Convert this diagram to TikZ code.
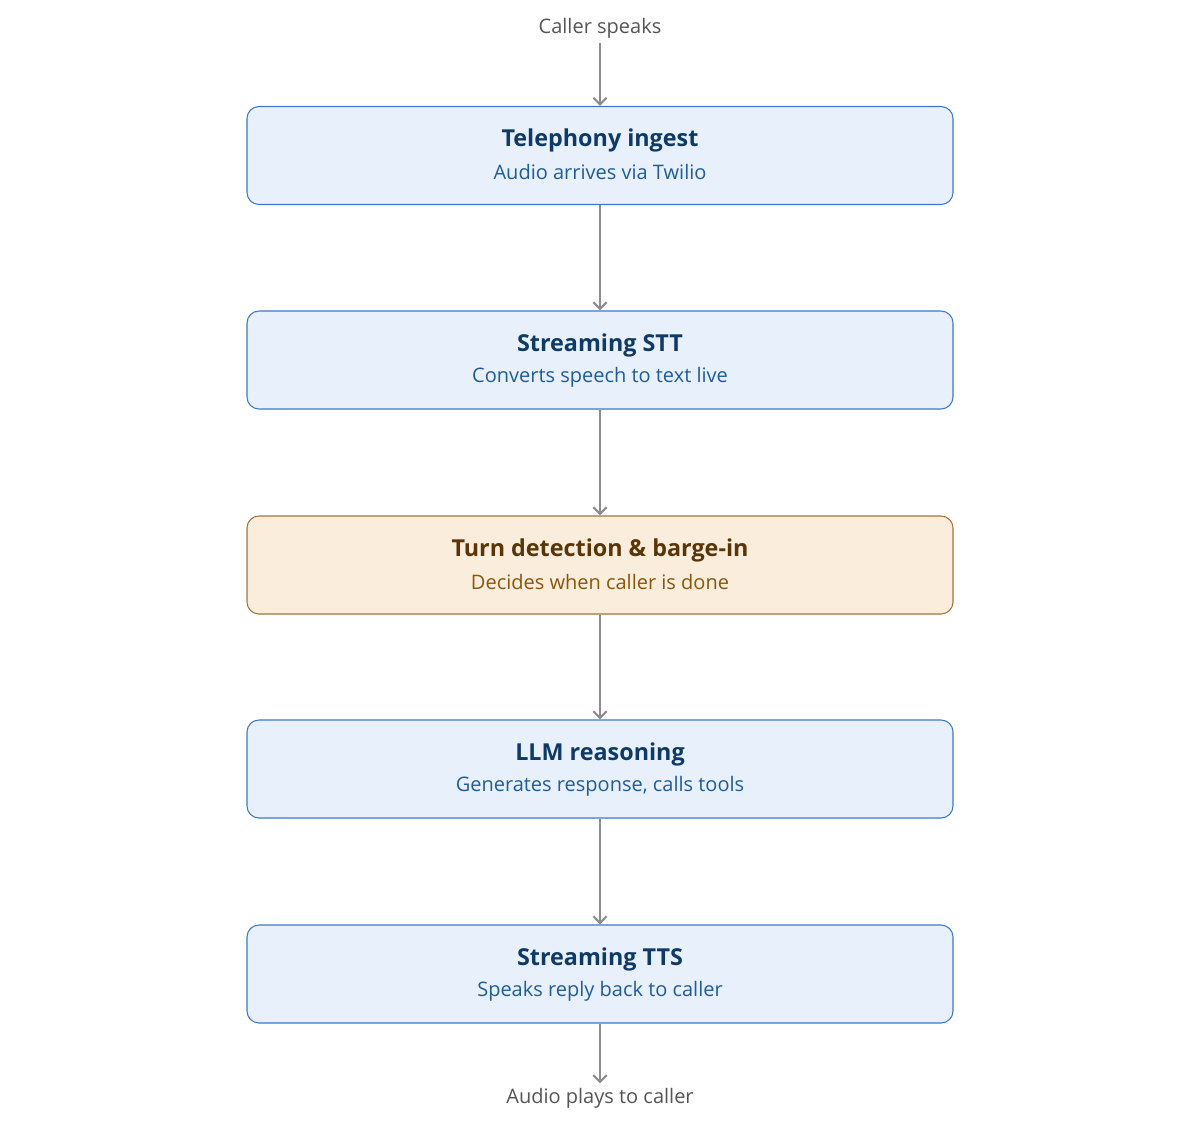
\documentclass[tikz,border=0pt]{standalone}
\usepackage{fontspec}
\setmainfont{Open Sans}
\usetikzlibrary{arrows.meta}
\definecolor{bfill}{HTML}{E8F1FB}
\definecolor{bdraw}{HTML}{3B78CC}
\definecolor{btitle}{HTML}{0E3A69}
\definecolor{bsub}{HTML}{1F5C9E}
\definecolor{ofill}{HTML}{FBEDDC}
\definecolor{odraw}{HTML}{A3743A}
\definecolor{otitle}{HTML}{5A3508}
\definecolor{osub}{HTML}{8A560C}
\definecolor{arr}{HTML}{8C8C8C}
\definecolor{lbl}{HTML}{555555}
\begin{document}
\begin{tikzpicture}[x=0.75pt,y=-0.75pt,
  box/.style={draw=bdraw,fill=bfill,rounded corners=9pt,line width=0.8pt,minimum width=706*0.75pt,minimum height=98*0.75pt,inner sep=0pt},
  obox/.style={box,draw=odraw,fill=ofill},
  ttl/.style={font=\fontsize{17.5}{20}\selectfont\bfseries,text=btitle},
  sub/.style={font=\fontsize{15}{18}\selectfont,text=bsub},
  lab/.style={font=\fontsize{15}{18}\selectfont,text=lbl},
  ar/.style={draw=arr,line width=1.6pt,-{Straight Barb[length=5pt,width=10pt]}}]
\useasboundingbox (0,0) rectangle (1200,1147);
\node[lab] (in) at (600,28) {Caller speaks};
\node[box] (b1) at (600,155.5) {};
\node[box] (b2) at (600,360) {};
\node[obox] (b3) at (600,565) {};
\node[box] (b4) at (600,769) {};
\node[box] (b5) at (600,974) {};
\node[lab] (out) at (600,1098) {Audio plays to caller};
\node[ttl] (t1) at (600,140) {Telephony ingest};
\node[sub] (s1) at (600,172) {Audio arrives via Twilio};
\node[ttl] (t2) at (600,345) {Streaming STT};
\node[sub] (s2) at (600,377) {Converts speech to text live};
\node[ttl,text=otitle] (t3) at (600,550) {Turn detection \& barge-in};
\node[sub,text=osub] (s3) at (600,582) {Decides when caller is done};
\node[ttl] (t4) at (600,754) {LLM reasoning};
\node[sub] (s4) at (600,786) {Generates response, calls tools};
\node[ttl] (t5) at (600,959) {Streaming TTS};
\node[sub] (s5) at (600,991) {Speaks reply back to caller};
\draw[ar] (in) -- (b1);
\draw[ar] (b1) -- (b2);
\draw[ar] (b2) -- (b3);
\draw[ar] (b3) -- (b4);
\draw[ar] (b4) -- (b5);
\draw[ar] (b5) -- (out);
\end{tikzpicture}
\end{document}
